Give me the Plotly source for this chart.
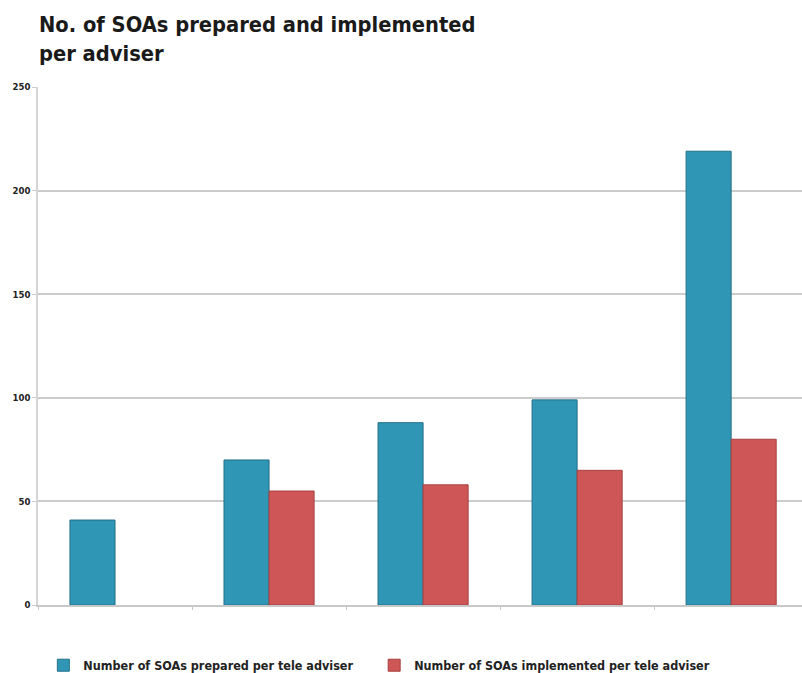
import plotly.graph_objects as go

categories = ["A", "B", "C", "D", "E"]
prepared = [41, 70, 88, 99, 219]
implemented = [None, 55, 58, 65, 80]
y_ticks = [0, 50, 100, 150, 200, 250]

FONT = "DejaVu Sans Condensed, Liberation Sans Narrow, Roboto Condensed, sans-serif"
LEGEND_FONT = dict(family=FONT, size=12.5, color="#222222")

fig = go.Figure()
fig.add_trace(go.Bar(
    x=categories, y=prepared, name="<b>Number of SOAs prepared per tele adviser</b>",
    marker=dict(color="#2F96B6", line=dict(color="#237088", width=1)),
    legend="legend",
))
fig.add_trace(go.Bar(
    x=categories, y=implemented, name="<b>Number of SOAs implemented per tele adviser</b>",
    marker=dict(color="#CF5656", line=dict(color="#A84040", width=1)),
    legend="legend2",
))

fig.update_layout(
    width=802, height=673,
    margin=dict(l=38, r=0, t=87, b=68, autoexpand=False),
    paper_bgcolor="white", plot_bgcolor="white",
    barmode="group", bargap=0.415, bargroupgap=0,
    title=dict(
        text="<b>No. of SOAs prepared and implemented<br>per adviser</b>",
        font=dict(family=FONT, size=21.7, color="#1a1a1a"),
        x=39 / 802, xanchor="left", xref="container",
        y=0.952, yanchor="top", yref="container",
    ),
    showlegend=True,
    legend=dict(
        orientation="h", x=0.007, xanchor="left", y=-0.088, yanchor="top",
        font=LEGEND_FONT, itemwidth=30, bgcolor="rgba(0,0,0,0)",
    ),
    legend2=dict(
        orientation="h", x=0.44, xanchor="left", y=-0.088, yanchor="top",
        font=LEGEND_FONT, itemwidth=30, bgcolor="rgba(0,0,0,0)",
    ),
    font=dict(family=FONT),
)

fig.update_xaxes(
    type="category", range=[-0.5, 4.46],
    showticklabels=False, showgrid=False,
    ticks="outside", tickson="boundaries", ticklen=3, tickcolor="#C8C8C8",
    showline=True, linecolor="#C8C8C8", linewidth=1.5, zeroline=False,
)
fig.update_yaxes(
    range=[0, 250], tickvals=y_ticks, ticktext=[f"<b>{v}</b>" for v in y_ticks],
    tickfont=dict(family=FONT, size=9.5, color="#222222"),
    showgrid=True, gridcolor="#CCCCCC", gridwidth=1.5,
    ticks="outside", ticklen=4, tickcolor="#CCCCCC",
    showline=True, linecolor="#D5D5D5", linewidth=1.5, zeroline=False,
)

fig.write_html("out.html")
